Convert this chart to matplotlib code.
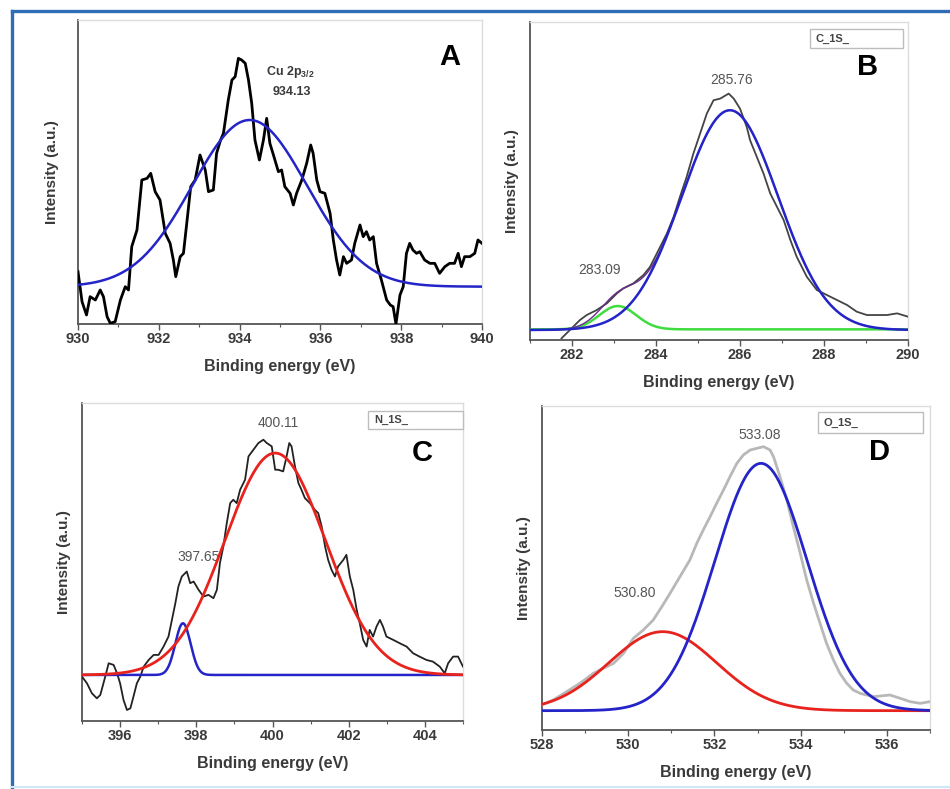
"""
plot.py

XPS high-resolution spectra: Cu 2p3/2 (A), C 1s (B), N 1s (C), O 1s (D),
raw traces with fitted Gaussian components.

Output: out.png (950 x 789 px)
"""

import numpy as np
import matplotlib.pyplot as plt
from matplotlib.lines import Line2D
from matplotlib.patches import Rectangle

plt.rcParams["font.family"] = ["Liberation Sans", "DejaVu Sans"]
plt.rcParams["mathtext.fontset"] = "custom"
plt.rcParams["mathtext.bf"] = "Liberation Sans:bold"

# ── data (binding energy eV, intensity a.u.) ──────────────────────────────────

# A  Cu 2p3/2
cu_energy = [
    930.00, 930.10, 930.21, 930.30, 930.43, 930.55, 930.63, 930.72, 930.80, 930.92,
    931.05, 931.17, 931.25, 931.33, 931.46, 931.58, 931.71, 931.80, 931.91, 932.03,
    932.16, 932.28, 932.36, 932.42, 932.53, 932.61, 932.71, 932.79, 932.90, 933.02,
    933.15, 933.23, 933.35, 933.43, 933.53, 933.60, 933.72, 933.81, 933.89, 933.97,
    934.05, 934.14, 934.22, 934.30, 934.38, 934.49, 934.59, 934.67, 934.75, 934.85,
    934.96, 935.04, 935.12, 935.25, 935.33, 935.41, 935.54, 935.66, 935.76, 935.82,
    935.91, 935.99, 936.11, 936.24, 936.32, 936.40, 936.48, 936.57, 936.65, 936.77,
    936.85, 936.98, 937.06, 937.14, 937.22, 937.31, 937.39, 937.51, 937.64, 937.73,
    937.80, 937.87, 937.97, 938.05, 938.13, 938.21, 938.29, 938.38, 938.46, 938.58,
    938.71, 938.83, 938.95, 939.08, 939.20, 939.32, 939.41, 939.49, 939.57, 939.70,
    939.82, 939.90, 940.00,
]
cu_counts = [
    157, 67, 27, 82, 72, 102, 82, 22, 2, 7,
    72, 112, 102, 232, 282, 432, 437, 452, 397, 372,
    272, 242, 192, 142, 202, 212, 322, 412, 432, 507,
    462, 397, 402, 512, 552, 572, 672, 732, 742, 797,
    792, 782, 732, 662, 552, 492, 552, 617, 542, 502,
    457, 462, 412, 392, 357, 392, 432, 482, 537, 512,
    432, 397, 392, 332, 252, 192, 147, 202, 182, 192,
    242, 297, 262, 277, 252, 262, 182, 132, 72, 57,
    52, 0, 87, 112, 212, 242, 222, 212, 217, 192,
    182, 182, 152, 172, 182, 182, 212, 172, 202, 202,
    212, 252, 242,
]
cu_fit = {"center": 934.25, "height": 500, "sigma": 1.42, "base": 112}

# B  C 1s
c_energy = [
    281.75, 281.79, 282.03, 282.19, 282.35, 282.59, 282.83, 283.07, 283.22, 283.46,
    283.70, 283.86, 284.02, 284.26, 284.42, 284.57, 284.73, 284.89, 285.05, 285.21,
    285.37, 285.53, 285.73, 285.85, 286.00, 286.16, 286.24, 286.40, 286.56, 286.72,
    286.88, 287.04, 287.20, 287.35, 287.59, 287.83, 288.07, 288.31, 288.55, 288.78,
    289.02, 289.26, 289.50, 289.74, 290.00,
]
c_counts = [
    5, 10, 40, 60, 75, 90, 110, 140, 155, 170,
    195, 220, 260, 320, 370, 430, 490, 560, 620, 680,
    720, 725, 740, 725, 695, 640, 600, 550, 500, 440,
    400, 360, 300, 250, 190, 150, 135, 120, 105, 85,
    75, 75, 75, 80, 70,
]
c_fit_main = {"center": 285.76, "height": 660, "sigma": 1.15, "base": 30}
c_fit_minor = {"center": 283.09, "height": 70, "sigma": 0.44, "base": 32}

# C  N 1s
n_energy = [
    395.00, 395.13, 395.26, 395.39, 395.48, 395.61, 395.70, 395.83, 395.92, 396.00,
    396.09, 396.18, 396.27, 396.35, 396.44, 396.53, 396.62, 396.75, 396.88, 397.01,
    397.14, 397.27, 397.36, 397.45, 397.53, 397.62, 397.75, 397.84, 397.93, 398.06,
    398.19, 398.32, 398.45, 398.54, 398.62, 398.71, 398.80, 398.89, 398.97, 399.06,
    399.15, 399.28, 399.37, 399.50, 399.63, 399.76, 399.85, 399.98, 400.07, 400.15,
    400.28, 400.37, 400.44, 400.50, 400.59, 400.68, 400.76, 400.85, 400.98, 401.11,
    401.20, 401.29, 401.38, 401.46, 401.55, 401.64, 401.72, 401.86, 401.94, 402.03,
    402.12, 402.21, 402.29, 402.38, 402.47, 402.55, 402.64, 402.73, 402.82, 402.90,
    402.99, 403.17, 403.34, 403.52, 403.69, 403.86, 404.04, 404.21, 404.39, 404.52,
    404.61, 404.74, 404.87, 405.00,
]
n_counts = [
    133, 113, 83, 68, 78, 133, 173, 168, 143, 113,
    63, 33, 38, 73, 113, 133, 163, 183, 198, 198,
    223, 253, 303, 353, 403, 433, 448, 413, 418, 393,
    373, 378, 368, 393, 473, 523, 593, 653, 663, 653,
    693, 723, 793, 813, 833, 843, 833, 823, 753, 753,
    748, 793, 833, 823, 763, 713, 693, 668, 653, 633,
    623, 583, 523, 483, 453, 433, 463, 483, 498, 433,
    393, 333, 293, 243, 223, 273, 253, 283, 303, 283,
    253, 243, 233, 223, 203, 193, 183, 178, 163, 143,
    173, 193, 193, 163,
]
n_fit_main = {"center": 400.07, "height": 665, "sigma": 1.32, "base": 138}
n_fit_minor = {"center": 397.65, "height": 155, "sigma": 0.20, "base": 138}

# D  O 1s
o_energy = [
    528.00, 528.26, 528.57, 528.88, 529.19, 529.42, 529.66, 529.89, 530.12, 530.35,
    530.58, 530.78, 530.97, 531.20, 531.43, 531.59, 531.74, 531.90, 532.05, 532.21,
    532.36, 532.52, 532.67, 532.83, 532.98, 533.14, 533.29, 533.37, 533.52, 533.68,
    533.83, 533.99, 534.14, 534.30, 534.45, 534.60, 534.76, 534.91, 535.07, 535.22,
    535.38, 535.53, 535.69, 535.84, 536.07, 536.31, 536.54, 536.77, 537.00,
]
o_counts = [
    75, 90, 115, 140, 170, 185, 200, 230, 275, 300,
    330, 370, 410, 460, 510, 560, 600, 640, 680, 720,
    760, 800, 825, 840, 845, 850, 840, 820, 760, 690,
    610, 530, 450, 380, 320, 260, 210, 170, 140, 120,
    110, 105, 100, 102, 105, 95, 85, 80, 85,
]
o_fit_main = {"center": 533.08, "height": 742, "sigma": 1.07, "base": 58}
o_fit_minor = {"center": 530.80, "height": 237, "sigma": 1.25, "base": 58}

BLUE = "#2424c8"
RED = "#e8231d"
GREEN = "#3fdc3f"
TEXT = "#3a3a3a"


# ── helpers ──────────────────────────────────────────────────────────────────

def gauss(x, p):
    return p["base"] + p["height"] * np.exp(-(x - p["center"]) ** 2 / (2 * p["sigma"] ** 2))


def style_axes(ax, xlim, ylim, xticks):
    ax.set_xlim(*xlim)
    ax.set_ylim(*ylim)
    ax.set_xticks(xticks)
    ax.set_xticks(np.arange(xlim[0], xlim[1] + 0.1, 1), minor=True)
    ax.set_yticks([])
    ax.tick_params(axis="x", which="major", direction="out", length=4, width=1,
                   color="#555555", labelsize=10.5, labelcolor=TEXT, pad=2)
    ax.tick_params(axis="x", which="minor", direction="out", length=2, width=0.8,
                   color="#555555")
    for lab in ax.get_xticklabels():
        lab.set_fontweight("bold")
    for s in ("left", "bottom"):
        ax.spines[s].set_color("#555555")
        ax.spines[s].set_linewidth(1.3)
    for s in ("top", "right"):
        ax.spines[s].set_color("#dcdcdc")
        ax.spines[s].set_linewidth(1.0)
    ax.set_xlabel("Binding energy (eV)", fontsize=11.5, fontweight="bold",
                  color=TEXT, labelpad=9)
    ax.set_ylabel("Intensity (a.u.)", fontsize=11, fontweight="bold",
                  color=TEXT, labelpad=8)


def tag_box(ax, label, x0, y0, x1, y1):
    ax.add_patch(Rectangle((x0, y0), x1 - x0, y1 - y0, transform=ax.transAxes,
                           facecolor="white", edgecolor="#bdbdbd", lw=1.0,
                           zorder=5, clip_on=False))
    ax.text(x0 + 0.015, (y0 + y1) / 2, label, transform=ax.transAxes,
            fontsize=8, fontweight="bold", color="#444444", va="center",
            ha="left", zorder=6)


def panel_letter(ax, letter, x, y):
    ax.text(x, y, letter, transform=ax.transAxes, fontsize=21,
            fontweight="bold", color="black", ha="center", va="center")


def peak_label(ax, text, x, y):
    ax.text(x, y, text, transform=ax.transAxes, fontsize=10, color="#555555",
            ha="center", va="center")


# ── figure ───────────────────────────────────────────────────────────────────

W, H = 950, 789
fig = plt.figure(figsize=(W / 100, H / 100), dpi=100)


def add_axes_px(x0, x1, y0, y1):
    return fig.add_axes([x0 / W, 1 - y1 / H, (x1 - x0) / W, (y1 - y0) / H])


ax_a = add_axes_px(78, 482, 20, 324)
ax_b = add_axes_px(530, 908, 22, 340)
ax_c = add_axes_px(82, 463, 403, 721)
ax_d = add_axes_px(542, 930, 406, 730)

# A
xa = np.linspace(930, 940, 400)
ax_a.plot(cu_energy, cu_counts, color="black", lw=2.0, zorder=3)
ax_a.plot(xa, gauss(xa, cu_fit), color=BLUE, lw=1.8, zorder=4)
style_axes(ax_a, (930, 940), (0, 912), np.arange(930, 941, 2))
ax_a.yaxis.labelpad = 14
ax_a.text(0.525, 0.83, r"Cu 2p$_{\mathbf{3/2}}$", transform=ax_a.transAxes,
          fontsize=9, fontweight="bold", color=TEXT, ha="center", va="center")
ax_a.text(0.53, 0.763, "934.13", transform=ax_a.transAxes, fontsize=9,
          fontweight="bold", color=TEXT, ha="center", va="center")
panel_letter(ax_a, "A", 0.921, 0.878)

# B
xb = np.linspace(281, 290, 400)
main_b = gauss(xb, c_fit_main)
minor_b = gauss(xb, c_fit_minor)
ax_b.plot(c_energy, c_counts, color="#444444", lw=1.3, zorder=3)
ax_b.plot(xb, minor_b, color=GREEN, lw=1.8, zorder=4)
ax_b.plot(xb, main_b + minor_b - c_fit_minor["base"], color="#6a2c8c", lw=1.0, zorder=4)
ax_b.plot(xb, main_b, color=BLUE, lw=1.8, zorder=5)
style_axes(ax_b, (281, 290), (0, 955), np.arange(282, 291, 2))
peak_label(ax_b, "285.76", 0.534, 0.818)
peak_label(ax_b, "283.09", 0.185, 0.220)
tag_box(ax_b, "C_1S_", 0.741, 0.918, 0.987, 0.978)
panel_letter(ax_b, "B", 0.894, 0.858)

# C
xc = np.linspace(395, 405, 400)
ax_c.plot(n_energy, n_counts, color="#222222", lw=1.3, zorder=3)
ax_c.plot(xc, gauss(xc, n_fit_minor), color=BLUE, lw=1.8, zorder=4)
ax_c.plot(xc, gauss(xc, n_fit_main), color=RED, lw=2.0, zorder=5)
style_axes(ax_c, (395, 405), (0, 953), np.arange(396, 405, 2))
peak_label(ax_c, "400.11", 0.514, 0.937)
peak_label(ax_c, "397.65", 0.307, 0.516)
tag_box(ax_c, "N_1S_", 0.751, 0.918, 1.0, 0.975)
panel_letter(ax_c, "C", 0.892, 0.843)

# D
xd = np.linspace(528, 537, 400)
ax_d.plot(o_energy, o_counts, color="#b8b8b8", lw=2.0, zorder=3)
ax_d.plot(xd, gauss(xd, o_fit_minor), color=RED, lw=2.0, zorder=4)
ax_d.plot(xd, gauss(xd, o_fit_main), color=BLUE, lw=2.0, zorder=5)
style_axes(ax_d, (528, 537), (0, 972), np.arange(528, 537, 2))
peak_label(ax_d, "533.08", 0.562, 0.910)
peak_label(ax_d, "530.80", 0.240, 0.423)
tag_box(ax_d, "O_1S_", 0.711, 0.917, 0.982, 0.981)
panel_letter(ax_d, "D", 0.871, 0.858)

# outer frame
fig.add_artist(Line2D([12 / W, 12 / W], [0, 1 - 11 / H], color="#2f6db5", lw=2.4))
fig.add_artist(Line2D([12 / W, 1], [1 - 11 / H, 1 - 11 / H], color="#2f6db5", lw=2.4))
fig.add_artist(Line2D([12 / W, 1], [2 / H, 2 / H], color="#cfe7f6", lw=1.5))

fig.savefig("out.png", dpi=100)
